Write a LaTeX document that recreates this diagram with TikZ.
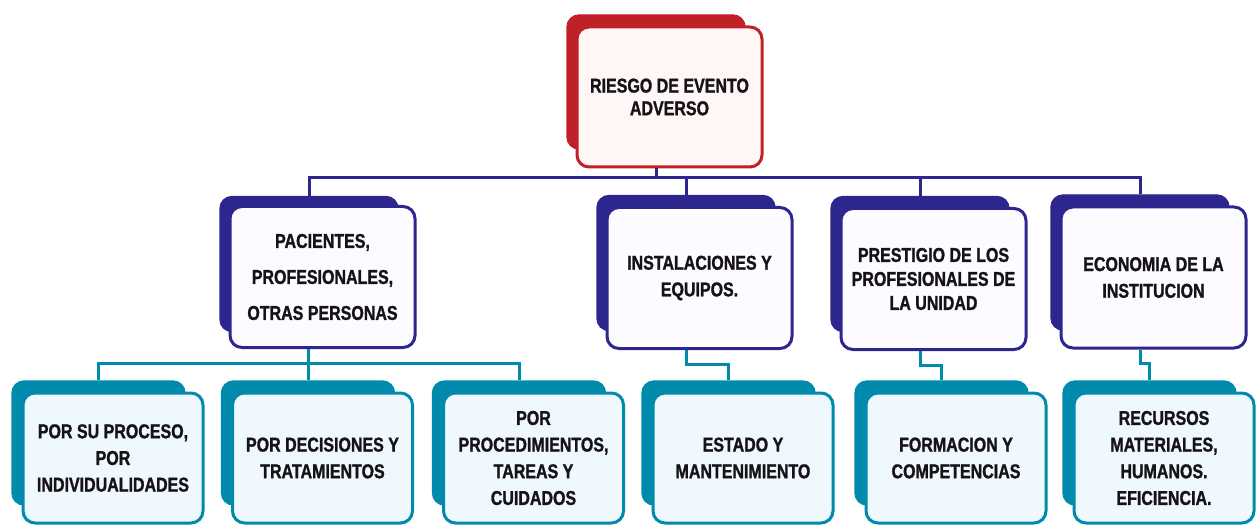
\documentclass[tikz,border=0pt]{standalone}
\usepackage{fontspec}
\usepackage{xcolor}
\usetikzlibrary{calc}
\newfontfamily\cardfont[FakeStretch=0.8, FakeBold=1.2]{Liberation Sans}
\definecolor{riskRed}{RGB}{192,32,40}
\definecolor{riskBlue}{RGB}{44,38,142}
\definecolor{riskTeal}{RGB}{0,138,172}
\definecolor{softRed}{RGB}{255,246,246}
\definecolor{softViolet}{RGB}{252,251,255}
\definecolor{softTeal}{RGB}{238,248,253}
\definecolor{darkText}{RGB}{22,18,24}
\tikzset{
    backcard/.style={
        rectangle,
        rounded corners=9pt,
        inner sep=0pt,
        fill=#1,
        draw=#1,
        line width=1pt
    },
    frontcard/.style={
        rectangle,
        rounded corners=9pt,
        draw=#1,
        line width=2.25pt,
        align=center,
        text=darkText,
        font=\cardfont\bfseries\fontsize{15}{20}\selectfont
    },
    rootfront/.style={minimum width=138.75pt, minimum height=105pt},
    rootback/.style={minimum width=133.5pt, minimum height=100.5pt},
    midfront/.style={minimum width=138.75pt, minimum height=105.75pt},
    midback/.style={minimum width=133.5pt, minimum height=101.25pt},
    leaffront/.style={minimum width=135pt, minimum height=97.5pt},
    leafback/.style={minimum width=129.75pt, minimum height=93pt},
    blueline/.style={draw=riskBlue, line width=2.25pt},
    tealline/.style={draw=riskTeal, line width=2.25pt}
}

\begin{document}
\begin{tikzpicture}[x=0.75pt, y=-0.75pt]
    \useasboundingbox (0,0) rectangle (1256,527);

    % top card
    \node[backcard=riskRed, rootback] (root-back) at (656,82) {};
    \node[frontcard=riskRed, fill=softRed, rootfront, font=\cardfont\bfseries\fontsize{15}{17}\selectfont] (root) at (669.5,97) {RIESGO DE EVENTO\\ADVERSO};

    % second row
    \node[backcard=riskBlue, midback] (pac-back) at (309,264) {};
    \node[frontcard=riskBlue, fill=softViolet, midfront, font=\cardfont\bfseries\fontsize{15}{27}\selectfont] (pac) at (322.5,277) {PACIENTES,\\PROFESIONALES,\\OTRAS PERSONAS};
    \node[backcard=riskBlue, midback] (inst-back) at (686,263) {};
    \node[frontcard=riskBlue, fill=softViolet, midfront] (inst) at (699.5,278) {INSTALACIONES Y\\EQUIPOS.};
    \node[backcard=riskBlue, midback] (prest-back) at (920,264) {};
    \node[frontcard=riskBlue, fill=softViolet, midfront, font=\cardfont\bfseries\fontsize{15}{18}\selectfont] (prest) at (933.5,279) {PRESTIGIO DE LOS\\PROFESIONALES DE\\LA UNIDAD};
    \node[backcard=riskBlue, midback] (econ-back) at (1140,262.5) {};
    \node[frontcard=riskBlue, fill=softViolet, midfront] (econ) at (1153.5,277.5) {ECONOMIA DE LA\\INSTITUCION};

    % third row
    \node[backcard=riskTeal, leafback] (proc-back) at (98.5,443) {};
    \node[frontcard=riskTeal, fill=softTeal, leaffront] (proc) at (113,458) {POR SU PROCESO,\\POR\\INDIVIDUALIDADES};
    \node[backcard=riskTeal, leafback] (dec-back) at (308,443) {};
    \node[frontcard=riskTeal, fill=softTeal, leaffront] (dec) at (322.5,458) {POR DECISIONES Y\\TRATAMIENTOS};
    \node[backcard=riskTeal, leafback] (task-back) at (519,443) {};
    \node[frontcard=riskTeal, fill=softTeal, leaffront] (task) at (533.5,458) {POR\\PROCEDIMIENTOS,\\TAREAS Y\\CUIDADOS};
    \node[backcard=riskTeal, leafback] (state-back) at (728.5,443) {};
    \node[frontcard=riskTeal, fill=softTeal, leaffront] (state) at (743,458) {ESTADO Y\\MANTENIMIENTO};
    \node[backcard=riskTeal, leafback] (train-back) at (941.5,443) {};
    \node[frontcard=riskTeal, fill=softTeal, leaffront] (train) at (956,458) {FORMACION Y\\COMPETENCIAS};
    \node[backcard=riskTeal, leafback] (res-back) at (1149.5,443) {};
    \node[frontcard=riskTeal, fill=softTeal, leaffront] (res) at (1164,458) {RECURSOS\\MATERIALES,\\HUMANOS.\\EFICIENCIA.};

    % buses
    \coordinate (bus) at (0,178);
    \coordinate (lowbus) at (0,363);

    \draw[blueline] (root.south -| root-back.center) -- (root-back.center |- bus);
    \draw[blueline] (pac-back.north) -- (pac-back.north |- bus) -- (econ-back.north |- bus) -- (econ-back.north);
    \draw[blueline] (inst-back.north) -- (inst-back.north |- bus);
    \draw[blueline] (prest-back.north) -- (prest-back.north |- bus);

    \draw[tealline] (pac.south -| dec-back.north) -- (dec-back.north);
    \draw[tealline] (proc-back.north) -- (proc-back.north |- lowbus) -- (task-back.north |- lowbus) -- (task-back.north);
    \draw[tealline] (inst.south -| inst-back.center) -- ++(0,14) -| (state-back.north);
    \draw[tealline] (prest.south -| prest-back.center) -- ++(0,14) -| (train-back.north);
    \draw[tealline] (econ.south -| econ-back.center) -- ++(0,14) -| (res-back.north);
\end{tikzpicture}
\end{document}
